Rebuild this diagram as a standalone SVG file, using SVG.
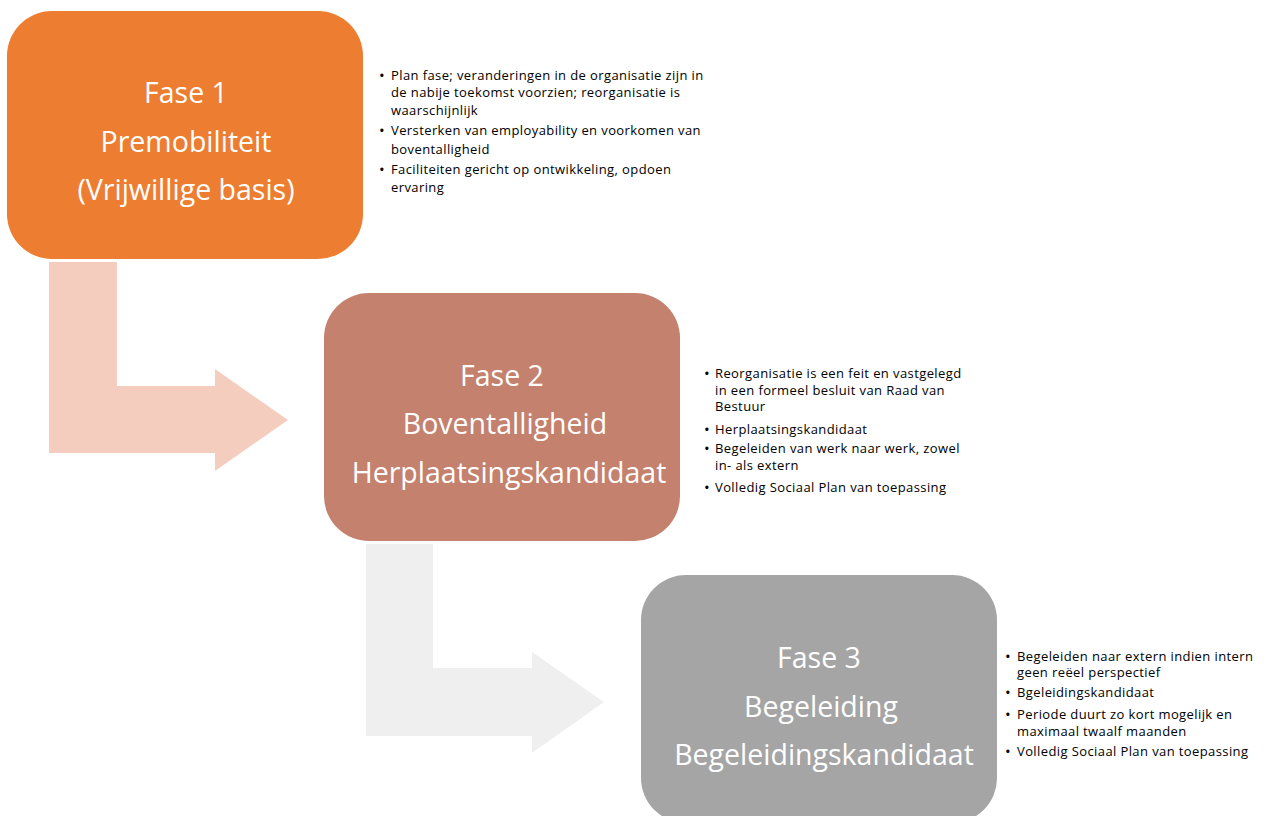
<svg xmlns="http://www.w3.org/2000/svg" width="1268" height="816" viewBox="0 0 1268 816">
<style>
.t{font-family:"Open Sans","Liberation Sans",sans-serif;font-size:28.5px;fill:#fff;text-anchor:middle}
.b{font-family:"Open Sans","Liberation Sans",sans-serif;font-size:13px;letter-spacing:0.4px;fill:#000}
.d{font-size:15px}
</style>
<rect width="1268" height="816" fill="#fff"/>
<g id="connectors">
<path d="M49,262 H117 V386 H215 V369 L288,420 L215,471 V453 H49 Z" fill="#F5CDBF"/>
<path d="M366,544 H433 V668 H532 V652 L604,702 L532,753 V736 H366 Z" fill="#EFEFEF"/>
</g>
<g id="fase1">
<rect x="7" y="11" width="356" height="248" rx="45" fill="#ED7D31"/>
<text class="t" x="186" y="103">Fase 1</text>
<text class="t" x="186" y="152">Premobiliteit</text>
<text class="t" x="186" y="200">(Vrijwillige basis)</text>
</g>
<g id="fase1-text" class="b">
<text class="d" x="379" y="81">•</text><text x="391" y="80">Plan fase; veranderingen in de organisatie zijn in</text>
<text x="391" y="97">de nabije toekomst voorzien; reorganisatie is</text>
<text x="391" y="115">waarschijnlijk</text>
<text class="d" x="379" y="136">•</text><text x="391" y="135">Versterken van employability en voorkomen van</text>
<text x="391" y="154">boventalligheid</text>
<text class="d" x="379" y="175">•</text><text x="391" y="174">Faciliteiten gericht op ontwikkeling, opdoen</text>
<text x="391" y="192">ervaring</text>
</g>
<g id="fase2">
<rect x="324" y="293" width="356" height="248" rx="45" fill="#C4816E"/>
<text class="t" x="502" y="386">Fase 2</text>
<text class="t" x="505" y="434">Boventalligheid</text>
<text class="t" x="509" y="483">Herplaatsingskandidaat</text>
</g>
<g id="fase2-text" class="b">
<text class="d" x="704" y="379">•</text><text x="715" y="378">Reorganisatie is een feit en vastgelegd</text>
<text x="715" y="395">in een formeel besluit van Raad van</text>
<text x="715" y="411">Bestuur</text>
<text class="d" x="704" y="435">•</text><text x="715" y="434">Herplaatsingskandidaat</text>
<text class="d" x="704" y="454">•</text><text x="715" y="453">Begeleiden van werk naar werk, zowel</text>
<text x="715" y="470">in- als extern</text>
<text class="d" x="704" y="493">•</text><text x="715" y="492">Volledig Sociaal Plan van toepassing</text>
</g>
<g id="fase3">
<rect x="641" y="575" width="356" height="248" rx="45" fill="#A5A5A5"/>
<text class="t" x="819" y="668">Fase 3</text>
<text class="t" x="821" y="717">Begeleiding</text>
<text class="t" x="824" y="765">Begeleidingskandidaat</text>
</g>
<g id="fase3-text" class="b">
<text class="d" x="1005" y="662">•</text><text x="1017" y="661">Begeleiden naar extern indien intern</text>
<text x="1017" y="677">geen reëel perspectief</text>
<text class="d" x="1005" y="698">•</text><text x="1017" y="697">Bgeleidingskandidaat</text>
<text class="d" x="1005" y="720">•</text><text x="1017" y="719">Periode duurt zo kort mogelijk en</text>
<text x="1017" y="736">maximaal twaalf maanden</text>
<text class="d" x="1005" y="757">•</text><text x="1017" y="756">Volledig Sociaal Plan van toepassing</text>
</g>
</svg>
